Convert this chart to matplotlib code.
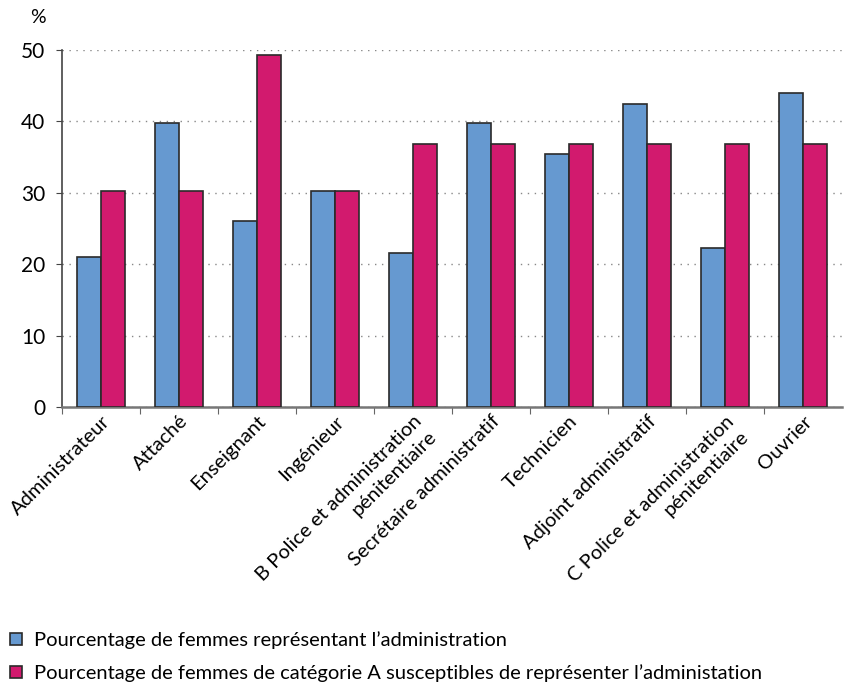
import numpy as np
import matplotlib.pyplot as plt

categories = ["Administrateur", "Attaché", "Enseignant", "Ingénieur",
              "B Police et administration\npénitentiaire", "Secrétaire administratif",
              "Technicien", "Adjoint administratif",
              "C Police et administration\npénitentiaire", "Ouvrier"]
femmes_admin = [21.0, 39.8, 26.0, 30.2, 21.6, 39.8, 35.5, 42.5, 22.3, 44.0]
femmes_cat_a = [30.2, 30.2, 49.3, 30.2, 36.8, 36.8, 36.8, 36.8, 36.8, 36.8]
legend_labels = ["Pourcentage de femmes représentant l’administration",
                 "Pourcentage de femmes de catégorie A susceptibles de représenter l’administation"]

plt.rcParams['font.family'] = ['Lato', 'DejaVu Sans']

fig = plt.figure(figsize=(8.54, 6.87), dpi=100)
ax = fig.add_axes([0.0726, 0.4076, 0.9134, 0.5195])

x = np.arange(len(categories))
w = 0.31
b1 = ax.bar(x - w / 2, femmes_admin, w, color="#6699D0", edgecolor="#2a2a2a", linewidth=1.2, zorder=3)
b2 = ax.bar(x + w / 2, femmes_cat_a, w, color="#D21A6E", edgecolor="#2a2a2a", linewidth=1.2, zorder=3)

ax.set_xlim(-0.5, len(categories) - 0.5)
ax.set_ylim(0, 50)
ax.set_yticks(range(0, 51, 10))
ax.tick_params(axis='y', labelsize=15, length=4, color="#444444", pad=8)
ax.yaxis.grid(True, linestyle=(0, (1, 4)), color="#888888", linewidth=1, zorder=0)

ax.set_xticks(x - 0.5, minor=False)
ax.set_xticklabels([])
ax.tick_params(axis='x', length=5, color="#666666", direction='out')
ax.set_xticks(x, minor=True)
ax.set_xticklabels(categories, minor=True, rotation=45, ha='right', va='top',
                   rotation_mode='anchor', fontsize=14.5, multialignment='right',
                   linespacing=1.3)
ax.tick_params(axis='x', which='minor', length=0, pad=4)

for s in ['top', 'right']:
    ax.spines[s].set_visible(False)
ax.spines['left'].set_color("#444444")
ax.spines['left'].set_linewidth(1.2)
ax.spines['bottom'].set_color("#777777")
ax.spines['bottom'].set_linewidth(1.8)

fig.text(0.044, 0.975, "%", fontsize=14, ha='center', va='center')

fig.legend([b1, b2], legend_labels, loc='lower left', bbox_to_anchor=(-0.009, -0.019),
           frameon=False, fontsize=14.5, handlelength=0.55, handleheight=0.55,
           handletextpad=0.6, labelspacing=0.75)

fig.savefig("out.png", dpi=100)
